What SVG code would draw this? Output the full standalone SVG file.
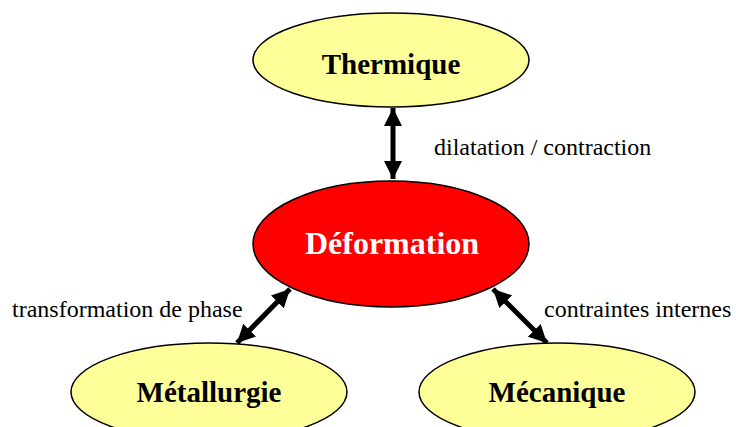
<svg xmlns="http://www.w3.org/2000/svg" width="736" height="427" viewBox="0 0 736 427">
<style>
.node{fill:#ffff99;stroke:#000;stroke-width:1.5}
.red{fill:#ff0000;stroke:#000;stroke-width:1.5}
.t{font-family:"Liberation Serif","Times New Roman",serif;font-weight:bold;font-size:29px;text-anchor:middle;fill:#000}
.lbl{font-family:"Liberation Serif","Times New Roman",serif;font-size:24px;fill:#000}
.conn{stroke:#000;stroke-width:5;fill:none}
</style>
<defs>
<marker id="ah" markerUnits="userSpaceOnUse" markerWidth="20" markerHeight="20" refX="18" refY="10" orient="auto-start-reverse" viewBox="0 0 20 20">
<path d="M0,1 L18,10 L0,19 Z" fill="#000"/>
</marker>
</defs>
<g id="connectors">
<line class="conn" x1="393" y1="108" x2="393" y2="179" marker-start="url(#ah)" marker-end="url(#ah)"/>
<line class="conn" x1="237" y1="343" x2="290" y2="289" marker-start="url(#ah)" marker-end="url(#ah)"/>
<line class="conn" x1="493" y1="289" x2="547" y2="343" marker-start="url(#ah)" marker-end="url(#ah)"/>
<text class="lbl" x="434" y="155">dilatation / contraction</text>
<text class="lbl" x="12" y="317">transformation de phase</text>
<text class="lbl" x="544" y="317">contraintes internes</text>
</g>
<g id="thermique">
<ellipse class="node" cx="391" cy="60" rx="138" ry="47"/>
<text class="t" x="391" y="74">Thermique</text>
</g>
<g id="deformation">
<ellipse class="red" cx="391" cy="244" rx="138" ry="63"/>
<text class="t" x="392" y="254" style="fill:#fff;font-size:32px">Déformation</text>
</g>
<g id="metallurgie">
<ellipse class="node" cx="209" cy="392" rx="138" ry="49"/>
<text class="t" x="209" y="402">Métallurgie</text>
</g>
<g id="mecanique">
<ellipse class="node" cx="557" cy="392" rx="138" ry="49"/>
<text class="t" x="557" y="402">Mécanique</text>
</g>
</svg>
